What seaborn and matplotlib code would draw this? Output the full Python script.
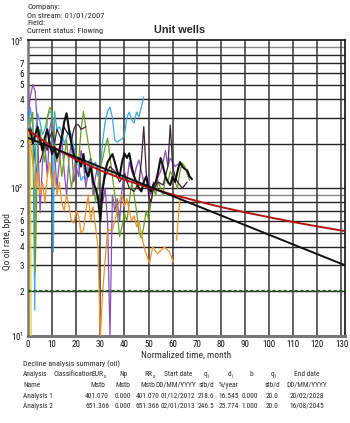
import numpy as np
import pandas as pd
import matplotlib
matplotlib.use("Agg")
import matplotlib.pyplot as plt
import seaborn as sns
from matplotlib.ticker import FixedLocator
from matplotlib import font_manager as fm

sns.set_theme(style="white")

# prefer a narrow/condensed regular face if one is installed
narrow_file = None
for f in fm.fontManager.ttflist:
    fn = f.fname.lower()
    if ("narrow" in fn or "condensed" in fn) and f.weight in (400, "normal", "regular") \
            and f.style == "normal":
        narrow_file = f.fname
        if "liberation" in fn:
            break
FONT = ['Liberation Sans', 'DejaVu Sans']
plt.rcParams['font.family'] = FONT


def fp(size, bold=False):
    if narrow_file and not bold:
        return fm.FontProperties(fname=narrow_file, size=size)
    return fm.FontProperties(family=FONT, size=size, weight="bold" if bold else "normal")


# ---------------- data ----------------
yellow_t = [0, 0.5, 1.0, 1.3]
yellow_q = [250, 280, 160, 10]

navy_t = [0, 1, 2, 3, 4]
navy_q = [210, 260, 230, 150, 120]

blue_t = [0, 1, 2, 2.8, 3.2, 4, 5, 6, 7, 8, 9, 10, 10.5, 11, 12, 13, 14, 15, 16, 17, 18, 19,
          20, 21, 22, 23, 24, 25, 26, 27, 28, 29, 30, 31, 32, 33, 34, 35, 36, 37, 38, 39, 40,
          41, 42, 43, 44, 45, 46, 47, 48]
blue_q = [220, 350, 260, 15, 240, 320, 280, 230, 250, 300, 330, 320, 37, 330, 250, 260, 240,
          200, 220, 250, 230, 190, 160, 140, 113, 120, 113, 150, 160, 140, 150, 120, 132, 211,
          280, 330, 354, 300, 211, 205, 211, 215, 228, 300, 327, 290, 275, 327, 303, 354, 413]

purple_t = list(range(0, 35)) + list(range(35, 63))
purple_q = [300, 420, 500, 450, 250, 68, 150, 200, 120, 250, 300, 180, 100, 150, 220, 130, 90,
            160, 200, 110, 140, 120, 180, 150, 100, 130, 160, 90, 120, 140, 110, 80, 100, 60, 10,
            90, 70, 85, 60, 100, 130, 110, 150, 130, 120, 140, 155, 130, 110, 100, 120, 90, 110,
            100, 120, 130, 150, 180, 140, 160, 150, 140, 145]

green_t = list(range(0, 68))
green_q = [200, 280, 326, 27, 200, 250, 180, 150, 300, 352, 330, 200, 150, 180, 120, 160, 210,
           140, 100, 130, 170, 150, 250, 330, 254, 200, 160, 120, 80, 100, 140, 160, 190, 218,
           163, 120, 90, 70, 47, 55, 68, 60, 80, 110, 90, 70, 50, 46, 55, 70, 61, 80, 100, 90,
           110, 100, 90, 120, 110, 130, 120, 110, 100, 130, 148, 140, 125, 113]

orange_t = list(range(0, 31)) + [31, 31.8, 33, 35, 36, 37, 38, 39, 40, 41, 42, 43, 44, 45, 46,
                                 47.5, 48.5, 50.4, 51.7, 53.7, 56.6, 58.7, 60.3]
orange_q = [250, 200, 150, 100, 130, 90, 110, 80, 120, 150, 100, 130, 90, 110, 80, 70, 90, 75,
            60, 58, 70, 65, 50, 52, 70, 90, 60, 75, 55, 40, 10,
            20, 30, 52, 52, 60, 70, 83, 90, 75, 85, 70, 60, 65, 55, 60, 44.5, 38, 31, 40, 36,
            40, 37, 31.6]

orange2_t = [61.6, 62.2, 62.8, 63.5]
orange2_q = [44.5, 60, 79, 87]

black_t = list(range(0, 69))
black_q = [250, 245, 200, 230, 260, 210, 180, 220, 250, 200, 170, 190, 160, 180, 220, 280, 321,
           250, 200, 170, 150, 160, 140, 170, 130, 120, 140, 110, 100, 87, 60, 100, 130, 150, 160,
           170, 150, 130, 120, 150, 172, 160, 172, 140, 120, 110, 100, 95, 110, 120, 100, 95, 105,
           110, 130, 160, 140, 120, 110, 105, 120, 110, 130, 150, 140, 135, 132, 120, 115]

dark1_t = list(range(5, 25))
dark1_q = [150, 170, 200, 180, 220, 240, 200, 250, 230, 210, 260, 240, 230, 210, 250, 270, 267,
           250, 255, 260]

dark2_t = [30, 32, 34, 36, 38, 40, 42, 44, 46, 47, 48, 49, 50, 51, 52, 54, 56, 58, 59, 60, 61,
           62, 64, 66]
dark2_q = [80, 120, 140, 130, 110, 125, 100, 95, 110, 150, 260, 130, 90, 80, 100, 110, 105, 140,
           267, 140, 120, 110, 100, 110]

# forecasts
fc1_t = [0, 131]
fc1_q = [218.6, 30.3]
fc2_t = [0, 10, 20, 30, 40, 50, 60, 70, 80, 90, 100, 110, 120, 131]
fc2_q = [246.5, 191, 156, 132, 114, 101, 90.4, 81.9, 74.5, 68.6, 63.6, 59.0, 55.1, 51.4]
limit_t = [0, 131]
limit_q = [20, 20]

xticks = list(range(0, 131, 10))

wells = [
    ("yellow", yellow_t, yellow_q, "#f2cf1a", 0.9),
    ("navy", navy_t, navy_q, "#2a4d9b", 0.9),
    ("blue", blue_t, blue_q, "#3aa9e0", 0.9),
    ("purple", purple_t, purple_q, "#8a4fb5", 0.9),
    ("green", green_t, green_q, "#6f9e22", 0.9),
    ("orange", orange_t, orange_q, "#f0932a", 0.9),
    ("orange2", orange2_t, orange2_q, "#f0932a", 0.9),
    ("dark1", dark1_t, dark1_q, "#3b2336", 0.9),
    ("dark2", dark2_t, dark2_q, "#3b2336", 0.9),
    ("black", black_t, black_q, "#111111", 1.5),
]

# ---------------- figure ----------------
fig = plt.figure(figsize=(3.5, 4.23), dpi=100)
ax = fig.add_axes([0.08, 0.2057, 0.906, 0.699])
ax.set_yscale("log")
ax.set_xlim(0, 131.5)
ax.set_ylim(10, 1000)

for v in [2, 3, 4, 5, 6, 7, 8, 9]:
    for dec in [10, 100]:
        c = "#888888" if v == 9 else "#222222"
        ax.axhline(v * dec, color=c, lw=1.0, zorder=0)
ax.axhline(100, color="#222222", lw=1.0, zorder=0)
for x in xticks[1:]:
    ax.axvline(x, color="#333333", lw=1.1, zorder=0)

for name, t, q, col, lw in wells:
    df = pd.DataFrame({"t": t, "q": q})
    sns.lineplot(data=df, x="t", y="q", ax=ax, color=col, lw=lw, sort=False,
                 estimator=None, legend=False, zorder=3)

sns.lineplot(x=limit_t, y=limit_q, ax=ax, color="#2f5a2a", lw=1.6, linestyle=(0, (1.5, 1)),
             zorder=4)
sns.lineplot(x=fc2_t, y=fc2_q, ax=ax, color="#b3140f", lw=1.4, zorder=5)
sns.lineplot(x=fc1_t, y=fc1_q, ax=ax, color="#111111", lw=1.4, zorder=6)

for s in ["top", "right"]:
    ax.spines[s].set_color("#111111")
    ax.spines[s].set_linewidth(1.2)
ax.spines["left"].set_color("#777777")
ax.spines["left"].set_linewidth(1.8)
ax.spines["bottom"].set_color("#777777")
ax.spines["bottom"].set_linewidth(2.2)

fs = 6.5
ax.set_xticks(xticks)
ax.set_xticklabels([str(x) for x in xticks])
ax.yaxis.set_major_locator(FixedLocator([10, 100, 1000]))
ax.set_yticklabels([r"10$^\mathregular{1}$", r"10$^\mathregular{2}$", r"10$^\mathregular{3}$"])
minor = [v * d for d in [10, 100] for v in [2, 3, 4, 5, 6, 7]]
ax.yaxis.set_minor_locator(FixedLocator(minor))
ax.set_yticklabels([str(int(m / (10 if m < 100 else 100))) for m in minor], minor=True)
for lab in ax.get_xticklabels() + ax.get_yticklabels() + ax.get_yticklabels(minor=True):
    lab.set_fontproperties(fp(fs))
ax.tick_params(axis="both", which="both", length=0, pad=3, colors="#111111")
ax.set_xlabel("Normalized time, month", fontproperties=fp(6.8), labelpad=1)
ax.set_ylabel("")
fig.text(0.022, 0.43, "Qo oil rate, bpd", rotation=90, fontproperties=fp(6.8), va="center",
         ha="center")

hdr = ["Company:", "On stream: 01/01/2007", "Field:", "Current status: Flowing"]
for i, h in enumerate(hdr):
    fig.text(27 / 350, 1 - (7 + i * 8) / 423, h, fontproperties=fp(6.0), va="center",
             ha="left")
fig.text(180 / 350, 1 - 30 / 423, "Unit wells", fontproperties=fp(7.8, bold=True),
         va="center", ha="center")

# ---------------- summary table ----------------
TFS = 5.3
renderer = fig.canvas.get_renderer()


def T(x, y, s, ha="left", size=TFS):
    return fig.text(x / 350, 1 - y / 423, s, fontproperties=fp(size), va="center", ha=ha)


def TS(x, y, base, sub):
    """base text centred at x with a small subscript after it"""
    t = T(x, y, base, ha="center")
    w = t.get_window_extent(renderer).width
    t.set_x((x - 1.2) / 350)
    fig.text((x - 1.2 + w / 2 + 0.3) / 350, 1 - (y + 2.0) / 423, sub,
             fontproperties=fp(TFS * 0.62), va="center", ha="left")
    return t


T(23, 364, "Decline analysis summary (oil)", size=5.8)
T(23, 375, "Analysis")
T(53, 375, "Classification")
TS(99, 375, "EUR", "o")
T(123, 375, "Np", ha="center")
TS(150, 375, "RR", "o")
T(178, 375, "Start date", ha="center")
TS(207, 375, "q", "i")
TS(231, 375, "d", "i")
T(251, 375, "b", ha="center")
TS(274, 375, "q", "l")
T(307, 375, "End date", ha="center")

T(23, 385, "Name")
for x, s in [(98, "Mstb"), (123, "Mstb"), (148, "Mstb"), (175.5, "DD/MM/YYYY"),
             (206, "stb/d"), (229, "%/year"), (272, "stb/d"), (307, "DD/MM/YYYY")]:
    T(x, 385, s, ha="center")

rows = [
    ("Analysis 1", "401.070", "0.000", "401.070", "01/12/2012", "218.6", "16.545", "0.000",
     "20.0", "20/02/2028"),
    ("Analysis 2", "651.366", "0.000", "651.366", "02/01/2013", "246.5", "25.774", "1.000",
     "20.0", "16/08/2045"),
]
cols = [97, 123, 148, 177.5, 206, 229, 250, 272, 307]
for r, y in zip(rows, [396, 406]):
    T(23, y, r[0])
    for x, s in zip(cols, r[1:]):
        T(x, y, s, ha="center")

fig.savefig("out.png", dpi=100)
